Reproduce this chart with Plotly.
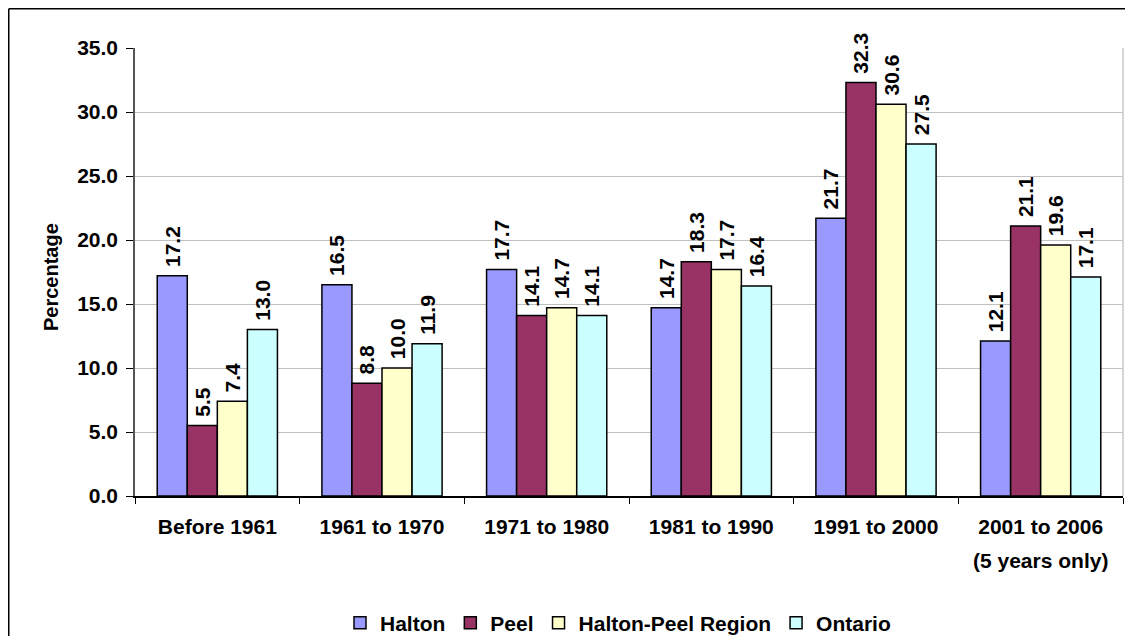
import plotly.graph_objects as go

categories = ["Before 1961", "1961 to 1970", "1971 to 1980", "1981 to 1990", "1991 to 2000", "2001 to 2006"]
category_notes = ["", "", "", "", "", "(5 years only)"]
halton = [17.2, 16.5, 17.7, 14.7, 21.7, 12.1]
peel = [5.5, 8.8, 14.1, 18.3, 32.3, 21.1]
halton_peel = [7.4, 10.0, 14.7, 17.7, 30.6, 19.6]
ontario = [13.0, 11.9, 14.1, 16.4, 27.5, 17.1]

series = [
    ("Halton", halton, "#9999FF"),
    ("Peel", peel, "#993366"),
    ("Halton-Peel Region", halton_peel, "#FFFFCC"),
    ("Ontario", ontario, "#CCFFFF"),
]

FONT = "Liberation Sans, Arial, sans-serif"
FS = 21

# page has an 8px body margin; figure origin at (8, 8)
OFF = 8
W, H = 1133 - 2 * OFF, 644 - 2 * OFF
# plot area in page coords: left 135, right 1123, top 48, bottom 496
ml = 135 - OFF
mr = W - (1123 - OFF)
mt = 48 - OFF
mb = H - (496 - OFF)
pw, ph = W - ml - mr, H - mt - mb

def px(x_page):
    return (x_page - OFF - ml) / pw

def py(y_page):
    return (H - mb - (y_page - OFF)) / ph

fig = go.Figure()
for name, vals, col in series:
    fig.add_trace(go.Bar(
        x=categories, y=vals, name=name,
        marker=dict(color=col, line=dict(color="#000000", width=1.5)),
        text=["\u00a0" + f"{v:.1f}" for v in vals],
        textposition="outside", textangle=-90, constraintext="none",
        textfont=dict(family=FONT, size=21, color="#000000", weight="bold"),
        cliponaxis=False,
    ))

annotations = []
for cat, note in zip(categories, category_notes):
    if note:
        annotations.append(dict(
            x=cat, xref="x", y=py(560), yref="paper", text=note, showarrow=False,
            xanchor="center", yanchor="middle",
            font=dict(family=FONT, size=FS, color="#000000", weight="bold"),
        ))
annotations.append(dict(
    x=px(51), xref="paper", y=py(277), yref="paper", text="Percentage", textangle=-90,
    showarrow=False, xanchor="center", yanchor="middle",
    font=dict(family=FONT, size=20, color="#000000", weight="bold"),
))

fig.update_layout(
    width=W, height=H,
    margin=dict(l=ml, r=mr, t=mt, b=mb, autoexpand=False),
    paper_bgcolor="white", plot_bgcolor="white",
    barmode="group", bargap=0.27, bargroupgap=0,
    font=dict(family=FONT, size=FS, color="#000000", weight="bold"),
    showlegend=True,
    legend=dict(orientation="h", x=px(618), xanchor="center",
                yref="container", y=1 - (623 - OFF) / H, yanchor="middle",
                font=dict(family=FONT, size=FS, color="#000000", weight="bold"),
                traceorder="normal", itemwidth=30),
    xaxis=dict(
        showline=True, linecolor="#000000", linewidth=1.5,
        ticks="outside", tickson="boundaries", ticklen=6, tickcolor="#000000",
        ticklabelstandoff=11,
        tickfont=dict(family=FONT, size=FS, color="#000000", weight="bold"),
        showgrid=False, mirror=False,
    ),
    yaxis=dict(
        range=[0, 35], dtick=5, tickformat=".1f",
        showline=True, linecolor="#555555", linewidth=1.5,
        ticks="outside", ticklen=7, tickcolor="#000000",
        ticklabelstandoff=4,
        showgrid=True, gridcolor="#C0C0C0", gridwidth=1,
        zeroline=False,
        tickfont=dict(family=FONT, size=FS, color="#000000", weight="bold"),
    ),
    annotations=annotations,
    shapes=[
        # plot area right border
        dict(type="line", xref="paper", yref="paper", x0=1, x1=1, y0=0, y1=1,
             line=dict(color="#C8C8C8", width=1.5)),
        # outer chart border (top and left)
        dict(type="line", xref="paper", yref="paper", x0=px(8.75), x1=px(1140), y0=py(8.75), y1=py(8.75),
             line=dict(color="#000000", width=1.5)),
        dict(type="line", xref="paper", yref="paper", x0=px(8.75), x1=px(8.75), y0=py(8.75), y1=py(650),
             line=dict(color="#000000", width=1.5)),
    ],
)

fig.write_html("out.html")
